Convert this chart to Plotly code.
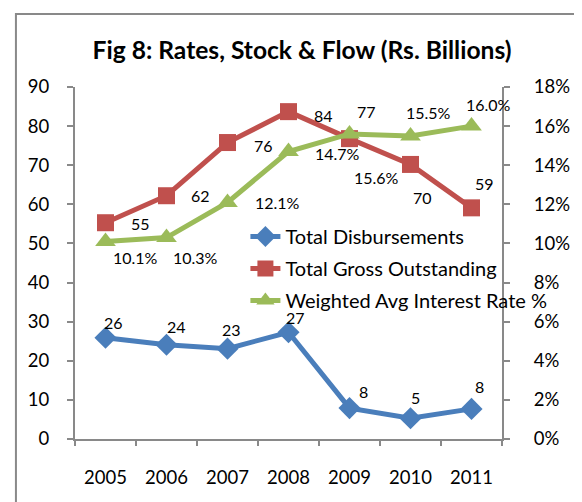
import plotly.graph_objects as go

years = ["2005", "2006", "2007", "2008", "2009", "2010", "2011"]
disbursements = [25.9, 24.1, 23.1, 27.3, 7.9, 5.3, 7.7]
outstanding = [55.3, 62.2, 75.8, 83.7, 76.8, 70.2, 59.1]
interest_rate = [0.101, 0.103, 0.121, 0.147, 0.156, 0.155, 0.160]

disb_labels = ["26", "24", "23", "27", "8", "5", "8"]
out_labels = ["55", "62", "76", "84", "77", "70", "59"]
rate_labels = ["10.1%", "10.3%", "12.1%", "14.7%", "15.6%", "15.5%", "16.0%"]

names = ["Total Disbursements", "Total Gross Outstanding", "Weighted Avg Interest Rate %"]
title_text = "Fig 8: Rates, Stock & Flow (Rs. Billions)"

# label pixel offsets (dx right, dy down) – styling only
disb_off = [(8, -15), (10, -18), (4, -19), (7, -15), (14, -17), (5, -21), (8, -22)]
out_off = [(35, 1), (34, 0), (36, 3), (35, 4), (17, -27), (12, 33), (13, -24)]
rate_off = [(30, 16), (29, 20), (50, 0), (49, 2), (27, 44), (18, -23), (17, -22)]

FONT = "Lato, 'Liberation Sans', sans-serif"
BLUE = "#4A7EBB"
RED = "#C0504D"
GREEN = "#9BBB59"
AXIS = "#898989"

# page body has an 8px margin; figure sized/offset accordingly
W, H = 574, 494
L, T = 67, 79
PW, PH = 441, 352

fig = go.Figure()
fig.add_trace(go.Scatter(
    x=years, y=disbursements, name=names[0], mode="lines+markers",
    line=dict(color=BLUE, width=5),
    marker=dict(symbol="diamond", size=17, color=BLUE),
    legendgroup="a", yaxis="y"))
fig.add_trace(go.Scatter(
    x=years, y=outstanding, name=names[1], mode="lines+markers",
    line=dict(color=RED, width=5),
    marker=dict(symbol="square", size=17, color=RED),
    legendgroup="b", yaxis="y"))
fig.add_trace(go.Scatter(
    x=years, y=interest_rate, name=names[2], mode="lines+markers",
    line=dict(color=GREEN, width=5),
    marker=dict(symbol="triangle-up", size=18, color=GREEN),
    legendgroup="c", yaxis="y2"))

annotations = []
for ys, labels, offs, yref in [
    (disbursements, disb_labels, disb_off, "y"),
    (outstanding, out_labels, out_off, "y"),
    (interest_rate, rate_labels, rate_off, "y2"),
]:
    for i, (yv, lab, (dx, dy)) in enumerate(zip(ys, labels, offs)):
        annotations.append(dict(
            x=i, y=yv, xref="x", yref=yref, text=lab, showarrow=False,
            xshift=dx, yshift=-dy, font=dict(family=FONT, size=16, color="#000000")))

fig.update_layout(
    width=W, height=H,
    margin=dict(l=L, r=W - L - PW, t=T, b=H - T - PH),
    paper_bgcolor="white", plot_bgcolor="white",
    font=dict(family=FONT, size=18, color="#000000"),
    title=dict(text="<b>" + title_text + "</b>", x=(302 - 8) / W, xanchor="center",
               y=1 - (50 - 8) / H, yanchor="middle",
               font=dict(family=FONT, size=24.6, color="#000000")),
    showlegend=True,
    legend=dict(x=(251 - 75) / PW, y=(439 - 217) / PH, xanchor="left", yanchor="top",
                bgcolor="rgba(0,0,0,0)", font=dict(family=FONT, size=20),
                tracegroupgap=3, itemsizing="trace"),
    xaxis=dict(type="category", range=[-0.5, 6.5], showgrid=False, zeroline=False,
               showline=True, linecolor=AXIS, linewidth=2,
               ticks="outside", tickson="boundaries", ticklen=5, tickcolor=AXIS, tickwidth=2,
               tickfont=dict(size=18.5), ticklabelstandoff=21),
    yaxis=dict(range=[0, 90], dtick=10, showgrid=False, zeroline=False,
               showline=True, linecolor=AXIS, linewidth=2,
               ticks="outside", ticklen=6, tickcolor=AXIS, tickwidth=2,
               tickfont=dict(size=18.5), ticklabelstandoff=14),
    yaxis2=dict(range=[0, 0.18], dtick=0.02, tickformat=".0%", overlaying="y", side="right",
                showgrid=False, zeroline=False,
                showline=True, linecolor=AXIS, linewidth=2,
                ticks="outside", ticklen=6, tickcolor=AXIS, tickwidth=2,
                tickfont=dict(size=18.5), ticklabelstandoff=20),
    annotations=annotations,
    shapes=[dict(type="rect", xref="paper", yref="paper",
                 x0=(14 - 75) / PW, x1=(600 - 75) / PW,
                 y0=(439 - 520) / PH, y1=(439 - 14) / PH,
                 line=dict(color=AXIS, width=2), fillcolor="rgba(0,0,0,0)", layer="below")],
)

fig.write_html("out.html")
